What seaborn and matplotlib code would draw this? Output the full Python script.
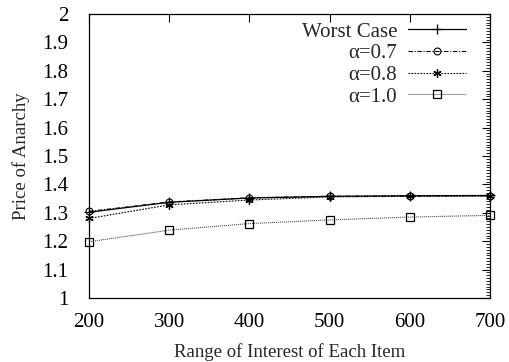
import numpy as np
import pandas as pd
import matplotlib
matplotlib.use('Agg')
import matplotlib.pyplot as plt
import seaborn as sns
from matplotlib.ticker import MultipleLocator

# Data
ranges = [200, 300, 400, 500, 600, 700]
worst_case = [1.302, 1.337, 1.352, 1.358, 1.360, 1.361]
alpha_07 = [1.305, 1.338, 1.353, 1.358, 1.359, 1.360]
alpha_08 = [1.280, 1.328, 1.345, 1.356, 1.358, 1.359]
alpha_10 = [1.198, 1.239, 1.262, 1.275, 1.285, 1.291]
labels = ['Worst Case', 'α=0.7', 'α=0.8', 'α=1.0']

sns.set_style('white')
plt.rcParams['font.family'] = ['Liberation Serif', 'DejaVu Serif']

fig = plt.figure(figsize=(5.09, 3.62), dpi=100)
ax = fig.add_axes([89 / 509, 1 - 298 / 362, (490 - 89) / 509, (298 - 14) / 362])

styles = [
    dict(color='black', linestyle='-', marker='+', markersize=7, lw=0.9,
         markeredgecolor='black', markeredgewidth=0.9),
    dict(color='black', linestyle=(0, (4, 1.5, 1, 1.5)), marker='o', markersize=5,
         markerfacecolor='none', markeredgecolor='black', markeredgewidth=0.8, lw=0.8),
    dict(color='black', linestyle=(0, (1.5, 1.2)), marker=(6, 2, 0), markersize=6, lw=0.8,
         markeredgecolor='black', markeredgewidth=0.9),
    dict(color='#555555', linestyle=(0, (1, 0.8)), marker='s', markersize=6,
         markerfacecolor='none', markeredgecolor='black', markeredgewidth=0.9, lw=0.8),
]

for vals, lab, st in zip([worst_case, alpha_07, alpha_08, alpha_10], labels, styles):
    df = pd.DataFrame({'range': ranges, 'poa': vals})
    sns.lineplot(data=df, x='range', y='poa', ax=ax, label=lab, clip_on=False, **st)

ax.set_xlim(200, 700)
ax.set_ylim(1, 2)
ax.xaxis.set_major_locator(MultipleLocator(100))
ax.yaxis.set_minor_locator(MultipleLocator(0.01))
ax.set_yticks(np.arange(1, 2.01, 0.1))
ax.set_yticklabels(['1', '1.1', '1.2', '1.3', '1.4', '1.5', '1.6', '1.7', '1.8', '1.9', '2'])
ax.tick_params(which='both', direction='in', top=True, right=True, labelsize=15, colors='black')
ax.tick_params(which='major', length=6, width=0.8)
ax.tick_params(which='minor', length=3, width=0.6)
ax.tick_params(axis='x', pad=10.5)
ax.tick_params(axis='y', pad=15)
for s in ax.spines.values():
    s.set_color('black')
    s.set_linewidth(0.9)

ax.set_xlabel('Range of Interest of Each Item', fontsize=13.5, labelpad=8)
ax.set_ylabel('Price of Anarchy', fontsize=13.5, labelpad=9)

ax.legend(loc='upper right', bbox_to_anchor=(0.940, 0.972), frameon=False,
          markerfirst=False, fontsize=15, handlelength=2.8, labelspacing=0.1,
          borderaxespad=0, borderpad=0, handletextpad=0.5)

fig.savefig('out.png', dpi=100)
